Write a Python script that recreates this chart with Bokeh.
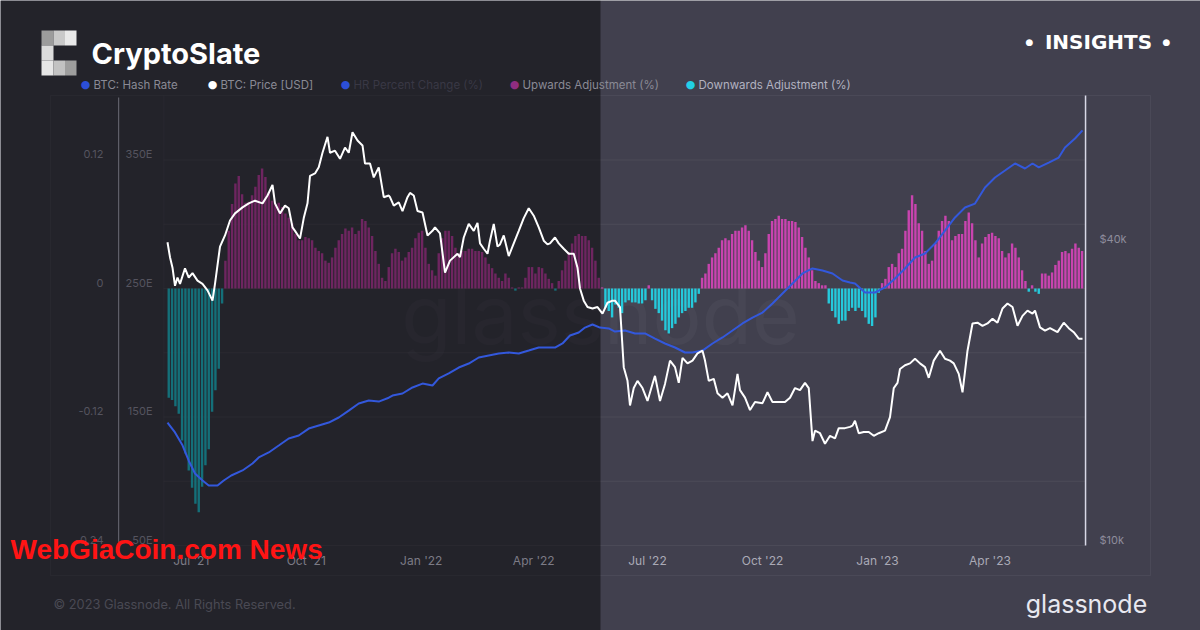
import pandas as pd
from bokeh.plotting import figure
from bokeh.models import (Range1d, LinearAxis, LogAxis, LogScale, FixedTicker,
                          BoxAnnotation, Label, ColumnDataSource, Grid)
from bokeh.embed import file_html
from bokeh.resources import INLINE

# ---------------------------------------------------------------- data
# BTC price (thousand USD)
price_series = [
    ("2021-06-12", 40.6), ("2021-06-14", 37.9), ("2021-06-16", 36.1), ("2021-06-18", 33.2),
    ("2021-06-20", 34.5), ("2021-06-22", 33.5), ("2021-06-26", 36.0), ("2021-06-29", 34.5),
    ("2021-07-02", 35.2), ("2021-07-06", 34.0), ("2021-07-10", 33.5), ("2021-07-14", 32.5),
    ("2021-07-18", 31.0), ("2021-07-20", 33.5), ("2021-07-24", 39.8), ("2021-07-28", 41.9),
    ("2021-08-01", 44.9), ("2021-08-05", 46.4), ("2021-08-11", 47.7), ("2021-08-16", 48.6),
    ("2021-08-21", 49.2), ("2021-08-27", 48.6), ("2021-08-31", 50.4), ("2021-09-04", 52.9),
    ("2021-09-06", 48.6), ("2021-09-10", 46.4), ("2021-09-14", 48.1), ("2021-09-17", 47.5),
    ("2021-09-20", 43.5), ("2021-09-22", 42.8), ("2021-09-26", 41.3), ("2021-09-29", 45.4),
    ("2021-10-02", 48.6), ("2021-10-04", 55.2), ("2021-10-08", 55.8), ("2021-10-11", 57.4),
    ("2021-10-14", 61.4), ("2021-10-18", 66.1), ("2021-10-20", 61.4), ("2021-10-24", 62.0),
    ("2021-10-28", 59.7), ("2021-11-01", 62.9), ("2021-11-04", 61.4), ("2021-11-07", 67.5),
    ("2021-11-11", 65.0), ("2021-11-15", 63.5), ("2021-11-17", 58.4), ("2021-11-21", 58.4),
    ("2021-11-24", 54.8), ("2021-11-28", 57.4), ("2021-12-02", 50.0), ("2021-12-06", 50.4),
    ("2021-12-07", 50.0), ("2021-12-10", 48.1), ("2021-12-14", 48.8), ("2021-12-17", 46.9),
    ("2021-12-21", 50.0), ("2021-12-23", 51.0), ("2021-12-26", 50.4), ("2021-12-29", 46.9),
    ("2022-01-02", 46.6), ("2022-01-06", 41.9), ("2022-01-10", 42.8), ("2022-01-12", 43.5),
    ("2022-01-16", 42.3), ("2022-01-20", 35.3), ("2022-01-24", 37.3), ("2022-01-30", 38.5),
    ("2022-02-01", 37.9), ("2022-02-04", 41.5), ("2022-02-08", 44.2), ("2022-02-12", 42.8),
    ("2022-02-15", 44.4), ("2022-02-17", 40.4), ("2022-02-20", 39.4), ("2022-02-23", 38.5),
    ("2022-02-25", 40.9), ("2022-02-28", 44.2), ("2022-03-03", 39.8), ("2022-03-05", 40.2),
    ("2022-03-08", 41.9), ("2022-03-12", 38.1), ("2022-03-16", 40.4), ("2022-03-20", 42.8),
    ("2022-03-24", 45.4), ("2022-03-28", 47.5), ("2022-04-01", 45.9), ("2022-04-05", 43.5),
    ("2022-04-09", 40.9), ("2022-04-12", 40.2), ("2022-04-14", 40.4), ("2022-04-18", 41.5),
    ("2022-04-21", 40.4), ("2022-04-25", 39.4), ("2022-04-29", 38.5), ("2022-05-03", 38.5),
    ("2022-05-06", 36.1), ("2022-05-08", 32.8), ("2022-05-11", 31.0), ("2022-05-14", 30.1),
    ("2022-05-18", 29.9), ("2022-05-22", 30.1), ("2022-05-26", 29.2), ("2022-05-30", 30.7),
    ("2022-06-03", 31.0), ("2022-06-05", 31.0), ("2022-06-09", 30.1), ("2022-06-12", 22.8),
    ("2022-06-15", 21.4), ("2022-06-17", 19.1), ("2022-06-20", 20.7), ("2022-06-23", 21.4),
    ("2022-06-27", 20.7), ("2022-07-01", 19.5), ("2022-07-05", 21.1), ("2022-07-07", 21.9),
    ("2022-07-11", 19.5), ("2022-07-15", 21.1), ("2022-07-19", 23.5), ("2022-07-23", 22.8),
    ("2022-07-26", 21.2), ("2022-07-29", 23.8), ("2022-08-02", 23.2), ("2022-08-06", 23.5),
    ("2022-08-10", 24.3), ("2022-08-14", 24.6), ("2022-08-16", 23.5), ("2022-08-19", 21.4),
    ("2022-08-23", 21.6), ("2022-08-26", 20.2), ("2022-08-30", 19.8), ("2022-09-03", 20.2),
    ("2022-09-07", 19.1), ("2022-09-11", 22.1), ("2022-09-13", 20.5), ("2022-09-17", 19.8),
    ("2022-09-21", 18.7), ("2022-09-25", 19.4), ("2022-10-01", 19.3), ("2022-10-05", 20.3),
    ("2022-10-09", 19.4), ("2022-10-14", 19.4), ("2022-10-19", 19.4), ("2022-10-23", 19.8),
    ("2022-10-27", 20.7), ("2022-10-31", 20.5), ("2022-11-04", 21.2), ("2022-11-07", 20.7),
    ("2022-11-10", 16.2), ("2022-11-12", 17.0), ("2022-11-16", 16.8), ("2022-11-20", 16.0),
    ("2022-11-24", 16.6), ("2022-11-28", 16.4), ("2022-12-01", 17.2), ("2022-12-06", 17.2),
    ("2022-12-10", 17.3), ("2022-12-12", 17.4), ("2022-12-14", 17.8), ("2022-12-17", 16.8),
    ("2022-12-21", 16.9), ("2022-12-25", 16.9), ("2022-12-29", 16.6), ("2023-01-02", 16.8),
    ("2023-01-07", 17.0), ("2023-01-11", 18.1), ("2023-01-14", 20.7), ("2023-01-17", 21.2),
    ("2023-01-19", 22.6), ("2023-01-23", 23.0), ("2023-01-27", 23.2), ("2023-01-31", 23.7),
    ("2023-02-04", 23.2), ("2023-02-08", 22.8), ("2023-02-11", 21.7), ("2023-02-15", 23.5),
    ("2023-02-20", 24.6), ("2023-02-24", 23.7), ("2023-02-28", 23.5), ("2023-03-03", 23.2),
    ("2023-03-07", 22.1), ("2023-03-10", 20.3), ("2023-03-14", 24.6), ("2023-03-18", 27.9),
    ("2023-03-22", 28.0), ("2023-03-26", 27.6), ("2023-03-30", 27.9), ("2023-04-03", 28.5),
    ("2023-04-07", 28.0), ("2023-04-11", 29.9), ("2023-04-15", 30.6), ("2023-04-19", 30.1),
    ("2023-04-23", 27.6), ("2023-04-27", 28.9), ("2023-05-01", 29.6), ("2023-05-05", 29.2),
    ("2023-05-07", 29.6), ("2023-05-11", 27.4), ("2023-05-15", 27.0), ("2023-05-19", 27.3),
    ("2023-05-25", 26.8), ("2023-05-30", 28.0), ("2023-06-03", 27.3), ("2023-06-07", 26.8),
    ("2023-06-11", 26.0), ("2023-06-14", 26.0),
]

# BTC hash rate (EH/s)
hash_series = [
    ("2021-06-12", 145.7), ("2021-06-18", 138.0), ("2021-06-24", 128.0), ("2021-06-29", 116.0),
    ("2021-07-04", 106.0), ("2021-07-10", 100.6), ("2021-07-15", 96.7), ("2021-07-22", 96.7),
    ("2021-07-27", 100.6), ("2021-08-02", 104.5), ("2021-08-11", 108.4), ("2021-08-19", 113.8),
    ("2021-08-24", 118.5), ("2021-09-01", 122.4), ("2021-09-09", 127.8), ("2021-09-17", 133.3),
    ("2021-09-25", 135.6), ("2021-10-03", 141.0), ("2021-10-11", 143.4), ("2021-10-19", 145.7),
    ("2021-10-27", 149.6), ("2021-11-04", 155.0), ("2021-11-12", 160.5), ("2021-11-20", 162.8),
    ("2021-11-28", 162.0), ("2021-12-06", 165.0), ("2021-12-09", 166.7), ("2021-12-17", 168.3),
    ("2021-12-25", 173.0), ("2022-01-02", 176.0), ("2022-01-10", 174.5), ("2022-01-15", 180.0),
    ("2022-01-23", 183.9), ("2022-01-31", 188.5), ("2022-02-08", 191.6), ("2022-02-16", 196.3),
    ("2022-02-24", 197.9), ("2022-03-04", 199.4), ("2022-03-12", 200.2), ("2022-03-20", 199.4),
    ("2022-03-28", 201.7), ("2022-04-05", 204.1), ("2022-04-13", 204.1), ("2022-04-18", 204.0),
    ("2022-04-24", 207.2), ("2022-04-30", 213.4), ("2022-05-07", 215.8), ("2022-05-12", 219.6),
    ("2022-05-18", 222.0), ("2022-05-24", 219.6), ("2022-05-31", 218.9), ("2022-06-05", 216.5),
    ("2022-06-13", 217.3), ("2022-06-21", 215.0), ("2022-06-29", 215.0), ("2022-07-07", 211.0),
    ("2022-07-15", 207.2), ("2022-07-23", 204.1), ("2022-07-31", 200.2), ("2022-08-06", 200.2),
    ("2022-08-14", 201.7), ("2022-08-22", 207.2), ("2022-08-30", 211.9), ("2022-09-07", 217.3),
    ("2022-09-15", 222.8), ("2022-09-23", 227.4), ("2022-10-01", 231.3), ("2022-10-09", 238.3),
    ("2022-10-17", 246.1), ("2022-10-25", 253.9), ("2022-11-02", 261.7), ("2022-11-10", 265.6),
    ("2022-11-18", 264.0), ("2022-11-26", 261.7), ("2022-12-04", 256.2), ("2022-12-10", 254.7),
    ("2022-12-14", 253.9), ("2022-12-22", 246.9), ("2022-12-30", 246.9), ("2023-01-07", 250.8),
    ("2023-01-15", 257.8), ("2023-01-23", 265.6), ("2023-01-31", 274.1), ("2023-02-08", 277.2),
    ("2023-02-16", 285.0), ("2023-02-24", 295.1), ("2023-03-04", 305.3), ("2023-03-12", 313.0),
    ("2023-03-20", 316.1), ("2023-03-28", 328.6), ("2023-04-05", 336.4), ("2023-04-13", 341.8),
    ("2023-04-21", 347.3), ("2023-04-29", 343.4), ("2023-05-05", 347.3), ("2023-05-10", 344.2),
    ("2023-05-18", 348.0), ("2023-05-26", 351.9), ("2023-05-31", 359.7), ("2023-06-08", 366.7),
    ("2023-06-14", 373.0),
]

# difficulty adjustment (fraction): >0 upwards, <0 downwards; one bar every 64 h
adj_start = "2021-06-13"
adj_step_hours = 64
adjustment = [
    -0.102, -0.104, -0.110, -0.117, -0.142, -0.154, -0.170, -0.186, -0.201, -0.209,
    -0.185, -0.165, -0.150, -0.115, -0.095, -0.075, -0.014,
    0.026, 0.054, 0.079, 0.098, 0.105, 0.088, 0.080, 0.081, 0.087, 0.095,
    0.106, 0.112, 0.104, 0.090, 0.082, 0.079, 0.080, 0.076, 0.070, 0.066,
    0.061, 0.051, 0.045, 0.045, 0.048, 0.047, 0.045, 0.038, 0.035, 0.033,
    0.026, 0.024, 0.029, 0.038, 0.045, 0.051, 0.056, 0.054, 0.057, 0.051,
    0.054, 0.065, 0.063, 0.057, 0.049, 0.035, 0.023, 0.010,
    0.007, 0.020, 0.033, 0.037, 0.034, 0.026, 0.029, 0.034, 0.038, 0.047,
    0.052, 0.054, 0.038, 0.023, 0.017, 0.012, 0.033, 0.047, 0.054, 0.054,
    0.049, 0.038, 0.033, 0.035, 0.035, 0.037, 0.037, 0.035, 0.035, 0.034,
    0.029, 0.023, 0.019, 0.014, 0.010, 0.007, 0.014, 0.010, 0.001, -0.002,
    0.001, 0.001, 0.010, 0.020, 0.020, 0.014, 0.020, 0.019, 0.014, 0.009,
    0.005, -0.002, 0.007, 0.017, 0.026, 0.034, 0.042, 0.049, 0.051, 0.049,
    0.049, 0.045, 0.038, 0.026, 0.010, 0.001, -0.018, -0.021, -0.027, -0.015,
    -0.018, -0.023, -0.013, -0.011, -0.013, -0.013, -0.014, -0.014, -0.011, 0.003,
    -0.011, -0.019, -0.023, -0.030, -0.039, -0.042, -0.037, -0.033, -0.027, -0.023,
    -0.021, -0.018, -0.018, -0.013, -0.005, 0.010, 0.014, 0.023, 0.029, 0.033,
    0.038, 0.045, 0.047, 0.045, 0.051, 0.054, 0.054, 0.057, 0.059, 0.054,
    0.045, 0.034, 0.026, 0.020, 0.033, 0.051, 0.063, 0.065, 0.068, 0.065,
    0.065, 0.063, 0.063, 0.062, 0.057, 0.048, 0.038, 0.029, 0.017, 0.007,
    0.005, 0.003, 0.003, -0.014, -0.021, -0.027, -0.033, -0.030, -0.030,
    -0.021, -0.018, -0.021, -0.018, -0.021, -0.027, -0.033, -0.035, -0.027, -0.004,
    0.005, 0.009, 0.020, 0.023, 0.020, 0.033, 0.037, 0.054, 0.073, 0.087,
    0.079, 0.061, 0.054, 0.035, 0.023, 0.026, 0.042, 0.054, 0.063, 0.068,
    0.063, 0.045, 0.049, 0.051, 0.051, 0.063, 0.071, 0.061, 0.045, 0.029,
    0.042, 0.048, 0.051, 0.052, 0.049, 0.047, 0.035, 0.029, 0.033, 0.042,
    0.038, 0.029, 0.017, 0.007, -0.003, 0.003, -0.003, -0.005, 0.014, 0.014,
    0.012, 0.015, 0.022, 0.026, 0.034, 0.035, 0.033, 0.037, 0.042, 0.038,
    0.035,
]

x_tick_dates = ["2021-07-01", "2021-10-01", "2022-01-01", "2022-04-01",
                "2022-07-01", "2022-10-01", "2023-01-01", "2023-04-01"]
x_tick_labels = ["Jul '21", "Oct '21", "Jan '22", "Apr '22",
                 "Jul '22", "Oct '22", "Jan '23", "Apr '23"]
pct_ticks = [-0.24, -0.12, 0.0, 0.12]
pct_labels = ["-0.24", "-0.12", "0", "0.12"]
grid_ticks = [-0.24, -0.18, -0.12, -0.06, 0.0, 0.06, 0.12]
hash_ticks = [50, 150, 250, 350]
hash_labels = ["50E", "150E", "250E", "350E"]
price_ticks = [10000, 40000]
price_labels = ["$10k", "$40k"]
legend_names = ["BTC: Hash Rate", "BTC: Price [USD]", "HR Percent Change (%)",
                "Upwards Adjustment (%)", "Downwards Adjustment (%)"]

# ---------------------------------------------------------------- layout
W, H = 1200, 630
DAY = 86400000.0
EPOCH = pd.Timestamp("1970-01-01")


def ms(d):
    return (pd.Timestamp(d) - EPOCH) / pd.Timedelta(milliseconds=1)


REF_DATE, REF_PX, PX_PER_DAY = "2023-01-01", 877.0, 1.25
X0 = ms(REF_DATE) - REF_PX / PX_PER_DAY * DAY


def x_at(px):
    return X0 + px / PX_PER_DAY * DAY


ZERO_PX, PCT_PPU = 288.0, 1071.0        # pct axis
HASH_REF, HASH_PPU = 250.0, 1.285       # hash axis (250E at ZERO_PX)
P_REF_PX, P_PPD = 545.0, 498.3          # price: $10k at 545 px, px per decade
LIFT = 6.0                              # tick labels sit above their gridline


def lin_range(ref_val, ref_px, ppu, lift=0.0):
    return Range1d(ref_val - (H - ref_px + lift) / ppu, ref_val + (ref_px - lift) / ppu)


def log_range(lift=0.0):
    lo = 4 - (H - P_REF_PX + lift) / P_PPD
    hi = 4 + (P_REF_PX - lift) / P_PPD
    return Range1d(10 ** lo, 10 ** hi)


def pct_at(py):
    return (ZERO_PX - py) / PCT_PPU


BG = "#41404e"
MAGENTA = "#d044b4"
CYAN = "#24d2e4"
BLUE = "#3358dc"

p = figure(width=W, height=H, x_range=Range1d(x_at(0), x_at(W)),
           y_range=lin_range(0.0, ZERO_PX, PCT_PPU),
           x_axis_location=None, y_axis_location=None,
           toolbar_location=None, output_backend="svg", min_border=0,
           background_fill_color=BG, border_fill_color=BG, outline_line_color=None)
# no default grid lines
p.renderers = [r for r in p.renderers if not isinstance(r, Grid)]
p.center = [r for r in p.center if not isinstance(r, Grid)]

p.extra_y_ranges = {
    "hash": lin_range(HASH_REF, ZERO_PX, HASH_PPU),
    "price": log_range(),
    "pct_lab": lin_range(0.0, ZERO_PX, PCT_PPU, LIFT),
    "hash_lab": lin_range(HASH_REF, ZERO_PX, HASH_PPU, LIFT),
    "price_lab": log_range(LIFT),
}
p.extra_y_scales = {"price": LogScale(), "price_lab": LogScale()}


def sbox(l, r, t, b, color, alpha=1.0, level="overlay", line=None, line_alpha=1.0):
    p.add_layout(BoxAnnotation(left=l, right=r, top=H - t, bottom=H - b,
                               left_units="screen", right_units="screen",
                               top_units="screen", bottom_units="screen",
                               fill_color=color, fill_alpha=alpha,
                               line_color=line, line_alpha=line_alpha, level=level))


def text(x, y, s, size, color, font="Inter", style="normal", align="left",
         alpha=1.0, level="overlay"):
    p.add_layout(Label(x=x, y=H - y, x_units="screen", y_units="screen", text=s,
                       text_font=font, text_font_size=f"{size}px", text_font_style=style,
                       text_color=color, text_alpha=alpha, text_align=align,
                       text_baseline="middle", level=level))


# panel frame + watermark
sbox(50, 1150, 95, 575, None, 0.0, level="underlay", line="white", line_alpha=0.05)
sbox(163, 163.8, 95, 545, "white", 0.05, level="underlay")
text(600, 314, "glassnode", 82, "white", align="center", alpha=0.035, level="image")

# grid lines
p.segment(x0=x_at(163), x1=x_at(1085), y0=grid_ticks, y1=grid_ticks,
          line_color="white", line_alpha=0.06, line_width=1, level="underlay")

# bars
adj_dates = pd.date_range(adj_start, periods=len(adjustment), freq=f"{adj_step_hours}h")
adj = pd.DataFrame({"x": adj_dates, "v": adjustment})
bar_w = 46 * 3600 * 1000
p.vbar(x="x", top="v", bottom=0, width=bar_w, source=ColumnDataSource(adj[adj.v > 0]),
       fill_color=MAGENTA, fill_alpha=0.95, line_color=None)
p.vbar(x="x", top="v", bottom=0, width=bar_w, source=ColumnDataSource(adj[adj.v < 0]),
       fill_color=CYAN, fill_alpha=0.95, line_color=None)

# dark overlay on the left half
sbox(0, 600, 0, H, "black", 0.45, level="guide")

# lines
hx = pd.to_datetime([d for d, _ in hash_series])
hy = [v for _, v in hash_series]
p.line(hx, hy, y_range_name="hash", line_color=BLUE, line_width=2, level="overlay")
px_ = pd.to_datetime([d for d, _ in price_series])
py_ = [v * 1000 for _, v in price_series]
p.line(px_, py_, y_range_name="price", line_color="white", line_width=2, level="overlay")

# vertical rules
sbox(117.5, 118.7, 97, 545, "#5e5e68")
sbox(1084.3, 1085.8, 95, 545, "#d8d8e6")


# axes
def axis_common(ax, color, size, standoff):
    ax.axis_line_color = None
    ax.major_tick_line_color = None
    ax.minor_tick_line_color = None
    ax.major_tick_out = 0
    ax.major_tick_in = 0
    ax.major_label_standoff = standoff
    ax.major_label_text_font = "Inter"
    ax.major_label_text_font_size = f"{size}px"
    ax.major_label_text_color = color
    ax.level = "annotation"
    return ax


ax_pct = axis_common(LinearAxis(y_range_name="pct_lab", ticker=FixedTicker(ticks=pct_ticks),
                                major_label_overrides=dict(zip(pct_ticks, pct_labels)),
                                fixed_location=x_at(106)), "#55545f", 11, 3)
p.add_layout(ax_pct, "left")
ax_hash = axis_common(LinearAxis(y_range_name="hash_lab", ticker=FixedTicker(ticks=hash_ticks),
                                 major_label_overrides=dict(zip(hash_ticks, hash_labels)),
                                 fixed_location=x_at(155)), "#55545f", 11, 3)
p.add_layout(ax_hash, "left")
ax_price = axis_common(LogAxis(y_range_name="price_lab", ticker=FixedTicker(ticks=price_ticks),
                               major_label_overrides=dict(zip(price_ticks, price_labels)),
                               fixed_location=x_at(1096)), "#8e8d9c", 11, 3)
p.add_layout(ax_price, "right")

xt = [ms(d) for d in x_tick_dates]
for sel, col in ((slice(0, 4), "#7c7b86"), (slice(4, 8), "#aaaab6")):
    ax = axis_common(LinearAxis(ticker=FixedTicker(ticks=xt[sel]),
                                major_label_overrides=dict(zip(xt[sel], x_tick_labels[sel])),
                                fixed_location=pct_at(545)), col, 12, 7)
    p.add_layout(ax, "below")

# header: logo
logo = [(41, 53, 30, 45, "#9c9c9c"), (53, 64.5, 30, 45, "#c9c9c9"), (64.5, 76, 30, 45, "#e9e9e9"),
        (41, 53, 45, 60, "#dcdcdc"),
        (41, 53, 60, 75, "#e6e6e6"), (53, 64.5, 60, 75, "#c2c2c2"), (64.5, 76, 60, 75, "#9e9e9e")]
for l, r, t, b, c in logo:
    sbox(l, r, t, b, c)
text(91, 53, "CryptoSlate", 29, "white", style="bold")
text(1098, 41, "INSIGHTS", 20, "white", font="DejaVu Sans", style="bold", align="center")
text(1029, 41, "●", 9, "white", font="DejaVu Sans", align="center")
text(1166, 41, "●", 9, "white", font="DejaVu Sans", align="center")

# legend
leg_x = [85, 212, 345, 514, 690]
leg_dot = ["#2c4fd8", "#ffffff", "#2c4fd8", "#8f2d80", "#22d0e6"]
leg_txt = ["#8a8a95", "#8a8a95", "#393845", "#8a8a95", "#b2b2c0"]
for x, name, dc, tc in zip(leg_x, legend_names, leg_dot, leg_txt):
    text(x, 84, "●", 11, dc, font="DejaVu Sans", align="center")
    text(x + 8, 84, name, 11.5, tc)

# footer
text(53, 604, "© 2023 Glassnode. All Rights Reserved.", 12.8, "#4a4a54")
text(1086, 603, "glassnode", 25, "#e8e8f0", align="center")
text(10, 549, "WebGiaCoin.com News", 28, "#ff1414", font="Liberation Sans", style="bold")

open("out.html", "w").write(file_html(p, INLINE))
